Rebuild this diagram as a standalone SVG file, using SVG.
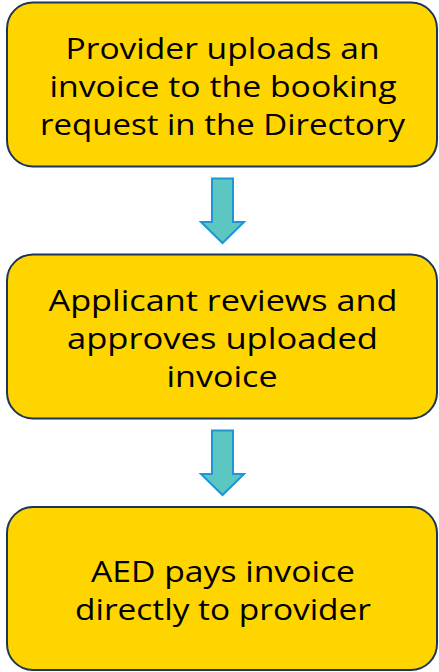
<svg xmlns="http://www.w3.org/2000/svg" width="439" height="672" viewBox="0 0 439 672">
<style>
.box{fill:#FFD500;stroke:#1D3557;stroke-width:2}
.arrow{fill:#5CC6C0;stroke:#1E96D6;stroke-width:2;stroke-linejoin:miter}
text{font-family:"Open Sans","Liberation Sans",sans-serif;font-size:30px;fill:#000;text-anchor:middle}
</style>
<rect width="439" height="672" fill="#FFFFFF"/>
<g id="connectors">
<polygon class="arrow" points="212,178.5 233,178.5 233,222 244,222 222.5,243 201,222 212,222"/>
<polygon class="arrow" points="212,430.5 233,430.5 233,474 244,474 222.5,495 201,474 212,474"/>
</g>
<g id="node1">
<rect class="box" x="7" y="2.5" width="430" height="164" rx="26"/>
<text x="222.5" y="58.5" textLength="314" lengthAdjust="spacingAndGlyphs">Provider uploads an</text>
<text x="223" y="97" textLength="347" lengthAdjust="spacingAndGlyphs">invoice to the booking</text>
<text x="222.5" y="135" textLength="365" lengthAdjust="spacingAndGlyphs">request in the Directory</text>
</g>
<g id="node2">
<rect class="box" x="7" y="254.5" width="430" height="164" rx="26"/>
<text x="223" y="311" textLength="349" lengthAdjust="spacingAndGlyphs">Applicant reviews and</text>
<text x="222.5" y="349" textLength="311" lengthAdjust="spacingAndGlyphs">approves uploaded</text>
<text x="222" y="387" textLength="111" lengthAdjust="spacingAndGlyphs">invoice</text>
</g>
<g id="node3">
<rect class="box" x="7" y="507" width="430" height="163" rx="26"/>
<text x="223" y="582" textLength="264" lengthAdjust="spacingAndGlyphs">AED pays invoice</text>
<text x="223" y="620" textLength="296" lengthAdjust="spacingAndGlyphs">directly to provider</text>
</g>
</svg>
